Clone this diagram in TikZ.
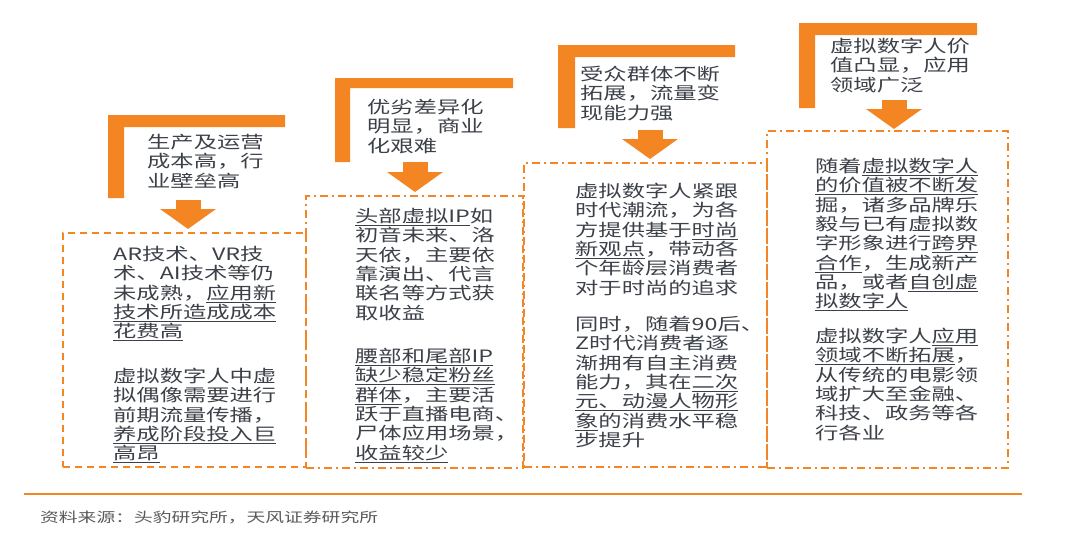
\documentclass[tikz,border=0pt]{standalone}
\usepackage{fontspec}
\setmainfont{Noto Sans CJK SC}[FakeStretch=1.37]
\usepackage{tikz}
\usetikzlibrary{arrows.meta}
\definecolor{org}{RGB}{243,133,35}
\definecolor{txt}{HTML}{3C4048}
\definecolor{src}{HTML}{595959}
\newcommand\udl[1]{\setbox0\hbox{#1}\rlap{\rule[-3.4pt]{\wd0}{0.9pt}}\box0}

\begin{document}
\begin{tikzpicture}[
  x=1pt, y=-1pt,
  bodytext/.style={font=\fontsize{17}{19.3}\selectfont, text=txt, align=left, inner sep=0pt, anchor=north west},
  heading/.style={bodytext},
  boxa/.style={draw=org, line width=1.6pt, dash pattern=on 7pt off 5pt, anchor=north west, inner sep=0pt},
  boxb/.style={draw=org, line width=1.6pt, dash pattern=on 8pt off 4pt on 2pt off 4pt, anchor=north west, inner sep=0pt},
  bracket/.style={fill=org, draw=none},
  blockarrow/.style={draw=org, line width=25pt, shorten >=3pt, -{Triangle[width=55pt, length=20pt]}},
]
\useasboundingbox (0,0) rectangle (1080,538);

% ---- dashed boxes ----
\node[boxa, minimum width=243pt, minimum height=234pt] (box1) at (62,232) {};
\node[boxb, minimum width=217pt, minimum height=272pt] (box2) at (305,195) {};
\node[boxb, minimum width=243pt, minimum height=304pt] (box3) at (523,162) {};
\node[boxb, minimum width=241pt, minimum height=337pt] (box4) at (766,130) {};

% ---- orange brackets ----
\fill[bracket] (108,115) -- (285,115) -- (285,127) -- (124,127) -- (124,198) -- (108,198) -- cycle;
\fill[bracket] (335,78) -- (513,78) -- (513,88) -- (350,88) -- (350,162) -- (335,162) -- cycle;
\fill[bracket] (558,45) -- (735,45) -- (735,57) -- (575,57) -- (575,128) -- (558,128) -- cycle;
\fill[bracket] (799,23) -- (977,23) -- (977,35) -- (815,35) -- (815,108) -- (799,108) -- cycle;

% ---- headings ----
\node[heading] (head1) at (147,134) {生产及运营\\成本高，行\\业壁垒高};
\node[heading] (head2) at (367,99)  {优劣差异化\\明显，商业\\化艰难};
\node[heading] (head3) at (580,66)  {受众群体不断\\拓展，流量变\\现能力强};
\node[heading] (head4) at (830,38)  {虚拟数字人价\\值凸显，应用\\领域广泛};

% ---- arrows ----
\coordinate (a1) at (188,200);
\coordinate (a2) at (415,162);
\coordinate (a3) at (650,130);
\coordinate (a4) at (894,100);
\draw[blockarrow] (a1) -- (a1 |- box1.north);
\draw[blockarrow] (a2) -- (a2 |- box2.north);
\draw[blockarrow] (a3) -- (a3 |- box3.north);
\draw[blockarrow, shorten >=1pt] (a4) -- (a4 |- box4.north);

% ---- box texts ----
\node[bodytext] (t1a) at (113,246) {AR技术、VR技\\术、AI技术等仍\\未成熟，\udl{应用新}\\\udl{技术所造成成本}\\\udl{花费高}};
\node[bodytext] (t1b) at (113,368) {虚拟数字人中虚\\拟偶像需要进行\\前期流量传播，\\\udl{养成阶段投入巨}\\\udl{高昂}};

\node[bodytext] (t2a) at (355,208) {\udl{头部虚拟IP}如\\初音未来、洛\\天依，主要依\\靠演出、代言\\联名等方式获\\取收益};
\node[bodytext] (t2b) at (355,348) {\udl{腰部和尾部IP}\\\udl{缺少稳定粉丝}\\\udl{群体}，主要活\\跃于直播电商、\\尸体应用场景，\\\udl{收益较少}};

\node[bodytext] (t3a) at (575,183) {虚拟数字人紧跟\\时代潮流，为各\\方提供基于\udl{时尚}\\\udl{新观点}，带动各\\个年龄层消费者\\对于时尚的追求};
\node[bodytext] (t3b) at (575,316) {同时，随着90后、\\Z时代消费者逐\\渐拥有自主消费\\能力，其在\udl{二次}\\\udl{元、动漫人物形}\\\udl{象}的消费水平稳\\步提升};

\node[bodytext] (t4a) at (815,158) {随着\udl{虚拟数字人}\\\udl{的价值被不断发}\\掘，诸多品牌乐\\毅与已有虚拟数\\字形象进行\udl{跨界}\\\udl{合作}，生成新产\\品，或者\udl{自创虚}\\\udl{拟数字人}};
\node[bodytext] (t4b) at (815,328) {虚拟数字人\udl{应用}\\\udl{领域不断拓展}，\\从传统的电影领\\域扩大至金融、\\科技、政务等各\\行各业};

% ---- source line ----
\draw[org, line width=2pt] (24,494) -- (1022,494);
\node[font=\fontsize{13.7}{16}\selectfont, text=src, inner sep=0pt, anchor=west] (source) at (40,517) {资料来源：头豹研究所，天风证券研究所};
\end{tikzpicture}
\end{document}
